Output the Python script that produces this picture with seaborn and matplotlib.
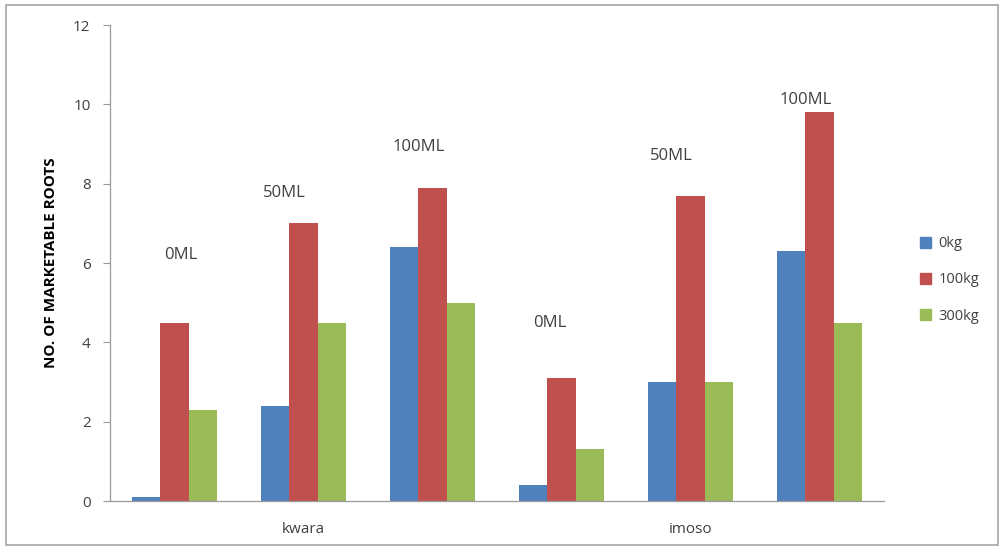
import matplotlib
matplotlib.use("Agg")
import matplotlib.pyplot as plt
import seaborn as sns
import pandas as pd
from matplotlib.patches import Rectangle

# Treatment groups (site x dose) and fertilizer rates
groups = ["kwara 0ML", "kwara 50ML", "kwara 100ML", "imoso 0ML", "imoso 50ML", "imoso 100ML"]
group_labels = ["0ML", "50ML", "100ML", "0ML", "50ML", "100ML"]
tick_labels = ["", "kwara", "", "", "imoso", ""]
rates = ["0kg", "100kg", "300kg"]

roots_0kg = [0.1, 2.4, 6.4, 0.4, 3.0, 6.3]
roots_100kg = [4.5, 7.0, 7.9, 3.1, 7.7, 9.8]
roots_300kg = [2.3, 4.5, 5.0, 1.3, 3.0, 4.5]

colors = ["#4F81BD", "#C0504D", "#9BBB59"]

# group label placement (x offset from group centre, height in axis units)
label_dx = [0.05, -0.15, -0.11, -0.09, -0.15, -0.11]
label_y = [6.2, 7.76, 8.92, 4.5, 8.7, 10.1]

rows = []
for rate, vals in zip(rates, [roots_0kg, roots_100kg, roots_300kg]):
    for g, v in zip(groups, vals):
        rows.append({"group": g, "rate": rate, "roots": v})
df = pd.DataFrame(rows)

sns.set_theme(style="white")
plt.rcParams["font.family"] = ["Open Sans", "DejaVu Sans"]

fig = plt.figure(figsize=(10.04, 5.49), dpi=100)
ax = fig.add_axes([0.1096, 0.0874, 0.7709, 0.867])

sns.barplot(data=df, x="group", y="roots", hue="rate", order=groups,
            hue_order=rates, palette=colors, width=0.66, gap=0,
            saturation=1, edgecolor="none", linewidth=0, ax=ax, legend=False)

ax.set_ylim(0, 12)
ax.set_xlim(-0.5, len(groups) - 0.5)
ax.set_yticks(range(0, 13, 2))
ax.set_yticklabels([str(v) for v in range(0, 13, 2)], fontsize=11, color="#404040")
ax.set_xticks(range(len(groups)))
ax.set_xticklabels(tick_labels, fontsize=11, color="#404040")
ax.tick_params(axis="x", length=0, pad=15)
ax.tick_params(axis="y", length=5, width=0.8, color="#999999", direction="out", left=True, pad=9)
ax.set_xlabel("")
ax.set_ylabel("NO. OF MARKETABLE ROOTS", fontsize=11, fontweight="bold", color="#000000", labelpad=11)

for side in ["top", "right"]:
    ax.spines[side].set_visible(False)
for side in ["left", "bottom"]:
    ax.spines[side].set_color("#999999")
    ax.spines[side].set_linewidth(0.9)

for i, (lab, dx, y) in enumerate(zip(group_labels, label_dx, label_y)):
    ax.text(i + dx, y, lab, ha="center", va="center", fontsize=12, color="#404040")

handles = [Rectangle((0, 0), 1, 1, color=c) for c in colors]
fig.legend(handles, rates, loc="center left", bbox_to_anchor=(0.903, 0.49),
           frameon=False, fontsize=10.5, handlelength=0.75, handleheight=0.75,
           handletextpad=0.55, labelspacing=1.45, labelcolor="#404040")

# outer chart border
fig.add_artist(Rectangle((0.006, 0.008), 0.988, 0.982, transform=fig.transFigure,
                         fill=False, edgecolor="#A6A6A6", linewidth=1.2))

fig.savefig("out.png", dpi=100)
